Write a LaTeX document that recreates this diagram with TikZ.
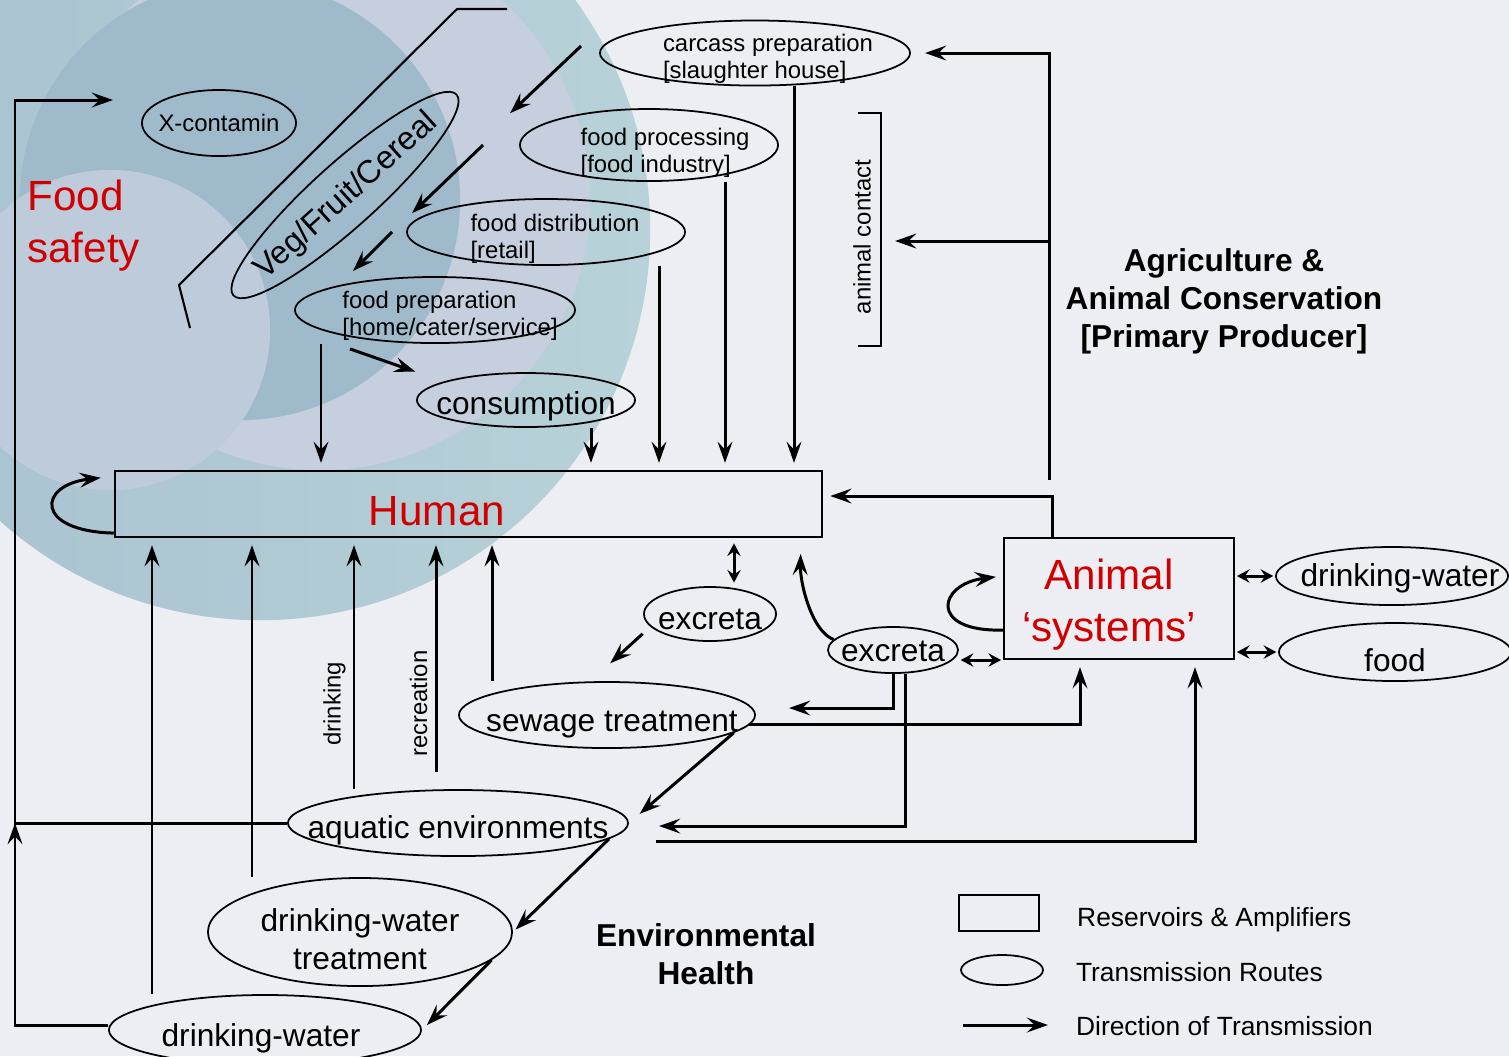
\documentclass[tikz,border=0pt]{standalone}
\usepackage{fontspec}
\setmainfont{Liberation Sans}
\usetikzlibrary{positioning, shapes.geometric, arrows.meta}

\definecolor{alarm}{HTML}{D00000}
\definecolor{paper}{HTML}{EDEEF3}
\definecolor{swirl}{HTML}{9FBACB}
\definecolor{ocean}{HTML}{A8C1D0}
\definecolor{lagoon}{HTML}{B7D2D8}
\definecolor{haze}{HTML}{C5CFDE}
\definecolor{mist}{HTML}{BECBDA}

\begin{document}
\begin{tikzpicture}[x=0.01cm, y=-0.01cm, line width=.8pt,
    >={Stealth[length=6pt, width=4.2pt, inset=2.2pt]}]
  \tikzstyle{route}=[ellipse, draw, line width=.5pt, inner sep=0]
  \tikzstyle{reservoir}=[rectangle, draw, line width=.6pt, inner sep=0]
  \tikzstyle{flow}=[->, line width=.85pt, shorten >=2pt]
  \tikzstyle{twoway}=[>={Stealth[length=3.6pt, width=3.8pt, inset=1.3pt]}, <->, line width=.85pt, shorten >=.5pt, shorten <=.5pt]
  \tikzstyle{small}=[font=\fontsize{6.8}{7.7}\selectfont, inner sep=0]
  \tikzstyle{mid}=[font=\fontsize{9}{10.8}\selectfont, inner sep=0]
  \tikzstyle{big}=[font=\fontsize{12}{14.8}\selectfont, text=alarm, inner sep=0]
  \tikzstyle{sector}=[font=\fontsize{9}{10.8}\selectfont\bfseries, align=center, inner sep=0]
  \tikzstyle{key}=[font=\fontsize{7.5}{9}\selectfont]

  \useasboundingbox (0,0) rectangle (1509,1056);

  % backdrop
  \begin{scope}
    \clip (0,0) rectangle (1509,1056);
    \fill[paper] (0,0) rectangle (1509,1056);
    \shade[left color=ocean, right color=lagoon] (260,230) circle (3.9cm);
    \fill[haze] (320,200) circle (2.7cm);
    \fill[swirl] (240,200) circle (2.2cm);
    \fill[mist] (110,330) circle (1.6cm);
  \end{scope}

  % food chain
  \node[route, minimum width=3.1cm, minimum height=.65cm,
    label={[small, align=left, xshift=.13cm, yshift=-.06cm]center:{carcass preparation\\{[slaughter house]}}}] (carcass) at (755,53) {};
  \node[route, minimum width=2.58cm, minimum height=.72cm,
    label={[small, align=left, xshift=.16cm, yshift=-.08cm]center:{food processing\\{[food industry]}}}] (proc) at (649,145) {};
  \node[route, minimum width=2.78cm, minimum height=.66cm,
    label={[small, align=left, xshift=.09cm, yshift=-.065cm]center:{food distribution\\{[retail]}}}] (dist) at (546,232) {};
  \node[route, minimum width=2.8cm, minimum height=.66cm,
    label={[small, align=left, xshift=.15cm, yshift=-.06cm]center:{food preparation\\{[home/cater/service]}}}] (prep) at (435,310) {};
  \node[route, minimum width=2.18cm, minimum height=.54cm,
    label={[mid, yshift=-.06cm]center:consumption}] (cons) at (526,400) {};
  \node[route, minimum width=1.54cm, minimum height=.66cm,
    label={[small]center:X-contamin}] (xcon) at (219,123) {};
  \node[route, rotate=42, minimum width=3cm, minimum height=.64cm,
    label={[font=\fontsize{9.2}{11}\selectfont, inner sep=0, rotate=42, yshift=-.02cm]center:Veg/Fruit/Cereal}] (veg) at (345,195) {};
  \draw[line width=.6pt] (507,9) -- (457,9) -- (179,285) -- (190,328);

  % reservoirs
  \node[reservoir, minimum width=7.07cm, minimum height=.66cm] (human) at (468.5,504) {};
  \node[big] (human-tag) at (437,511) {Human};
  \node[reservoir, minimum width=2.3cm, minimum height=1.21cm,
    label={[big, align=center, xshift=-.1cm, yshift=-.06cm]center:{Animal\\‘systems’}}] (animal) at (1119,598.5) {};

  % environment
  \node[route, minimum width=1.32cm, minimum height=.54cm, label={[mid, yshift=-.05cm]center:excreta}] (excH) at (710,614) {};
  \node[route, minimum width=1.3cm, minimum height=.46cm, label={[mid, yshift=-.01cm]center:excreta}] (excA) at (893,650) {};
  \node[route, minimum width=2.96cm, minimum height=.66cm,
    label={[mid, xshift=.05cm, yshift=-.1cm]center:sewage treatment}] (sewage) at (607,715) {};
  \node[route, minimum width=3.4cm, minimum height=.66cm,
    label={[mid, yshift=-.07cm]center:aquatic environments}] (aqua) at (458,823) {};
  \node[route, minimum width=3.04cm, minimum height=1.08cm,
    label={[mid, align=center, yshift=-.07cm]center:{drinking-water\\treatment}}] (dwtreat) at (360,932) {};
  \node[route, minimum width=3.12cm, minimum height=.7cm,
    label={[mid, xshift=-.04cm, yshift=-.08cm]center:drinking-water}] (dwater) at (265,1030) {};
  \node[route, minimum width=2.32cm, minimum height=.58cm,
    label={[mid, xshift=.08cm, yshift=-.02cm]center:drinking-water}] (dwR) at (1392,576) {};
  \node[route, minimum width=2.32cm, minimum height=.58cm,
    label={[mid, yshift=-.08cm]center:food}] (food) at (1395,652) {};

  % sector titles
  \node[big, align=left, anchor=west] (safety) at (26,226) {Food\\safety};
  \node[sector] (agri) at (1224,301) {Agriculture \&\\Animal Conservation\\{[Primary Producer]}};
  \node[sector] (envh) at (706,954) {Environmental\\Health};
  \node[small, rotate=90] (contact) at (862,237) {animal contact};
  \draw[line width=.6pt] (858,113) -- (881,113) -- (881,346) -- (858,346);

  % free ends
  \coordinate (veg-a) at (505,118);
  \coordinate (veg-b) at (407,218);
  \coordinate (veg-c) at (348,276);
  \coordinate (cons-in) at (422,374);
  \coordinate (sew-top) at (605,668);
  \coordinate (sew-side) at (782,708);
  \coordinate (aqua-side) at (652,826);
  \coordinate (bend) at (1052,496);
  \coordinate (spine) at (1049,480);
  \coordinate (contact-bar) at (881,241);
  \coordinate (rim) at (15,100);
  \coordinate (xcon-in) at (120,100);

  % transmission along the food chain
  \draw[flow] ([xshift=-.18cm, yshift=.07cm]carcass.west) -- (veg-a);
  \draw[flow] ([xshift=-.36cm]proc.west) -- (veg-b);
  \draw[flow] ([xshift=-.14cm]dist.west) -- (veg-c);
  \draw[flow] ([xshift=-.85cm, yshift=-.05cm]prep.south) -- (cons-in);
  \foreach \src/\col in {prep/321, cons/591, dist/659, proc/725, carcass/794}
    \draw[flow] (\src.south -| \col,0) -- (human.north -| \col,0);

  % primary producer
  \draw[flow, shorten >=4pt] (spine) |- (carcass.east);
  \draw[flow, shorten >=4pt] (spine |- contact-bar) -- (contact-bar);
  \draw[flow] (animal.north -| bend) |- (human.east |- bend);
  \draw[twoway] (dwR.west -| animal.east) -- (dwR.west);
  \draw[twoway] (food.west -| animal.east) -- (food.west);

  % environment to human
  \foreach \src/\col in {dwater/152, dwtreat/252, sewage/492}
    \draw[flow] (\src.north -| \col,0) -- (human.south -| \col,0);
  \draw[flow] (aqua.north -| 354,0) -- (human.south -| 354,0)
    node[pos=.34, sloped, above=2pt, small] {drinking};
  \draw[flow, shorten <=5pt] (aqua.north -| 436,0) -- (human.south -| 436,0)
    node[pos=.34, sloped, above=2pt, small] {recreation};

  % excreta
  \draw[twoway, shorten >=1pt, shorten <=1.5pt] (human.south -| 734,0) -- (excH.north -| 734,0);
  \draw[flow] ([xshift=-.2cm]excH.south west) -- (sew-top);
  \draw[flow, shorten >=4.5pt] (excA.170) .. controls +(-22,-8) and +(-1,45) .. (human.south -| 801,0);
  \draw[twoway] ([yshift=-.1cm]excA.east) -- ([yshift=-.1cm]excA.east -| animal.west);
  \draw[flow] (excA.south) |- (sew-side);
  \draw[flow] ([xshift=.12cm]excA.south) |- (aqua-side);

  % water cycle
  \draw[flow] (sewage.-4) -| (animal.south -| 1080,0);
  \draw[flow] ([xshift=.27cm, yshift=-.18cm]aqua.east) -| (animal.south -| 1195,0);
  \draw[flow, shorten >=4pt] (sewage.-8) -- (aqua.east);
  \draw[flow, shorten >=1pt] (aqua.-6) -- (dwtreat.east);
  \draw[flow] (dwtreat.-12) -- (dwater.east);
  \draw[flow, shorten >=0pt] ([yshift=.05cm]dwater.west) -| (rim |- aqua.west);
  \draw[flow] (aqua.west) -| (rim) -- (xcon-in);

  % self amplification
  \draw[flow] ([yshift=.05cm]human.south west) .. controls +(-80,-2) and +(-70,8) .. ([xshift=-.06cm, yshift=-.07cm]human.north west);
  \draw[flow] ([yshift=-.315cm]animal.west) .. controls +(-75,2) and +(-65,8) .. ([yshift=.225cm]animal.west);

  % legend
  \node[reservoir, minimum width=.8cm, minimum height=.36cm] (leg-box) at (999,913) {};
  \node[route, minimum width=.82cm, minimum height=.3cm] (leg-route) at (1002,970) {};
  \coordinate (leg-tail) at (963,1025);
  \coordinate (leg-head) at (1048,1025);
  \draw[flow, shorten >=0pt] (leg-tail) -- (leg-head);
  \node[key, right = .24cm of leg-box, yshift=-.07cm] (key-res) {Reservoirs \& Amplifiers};
  \node[key, right = .19cm of leg-route, yshift=-.02cm] (key-route) {Transmission Routes};
  \node[key, right = .15cm of leg-head, yshift=-.01cm] (key-dir) {Direction of Transmission};
\end{tikzpicture}
\end{document}
